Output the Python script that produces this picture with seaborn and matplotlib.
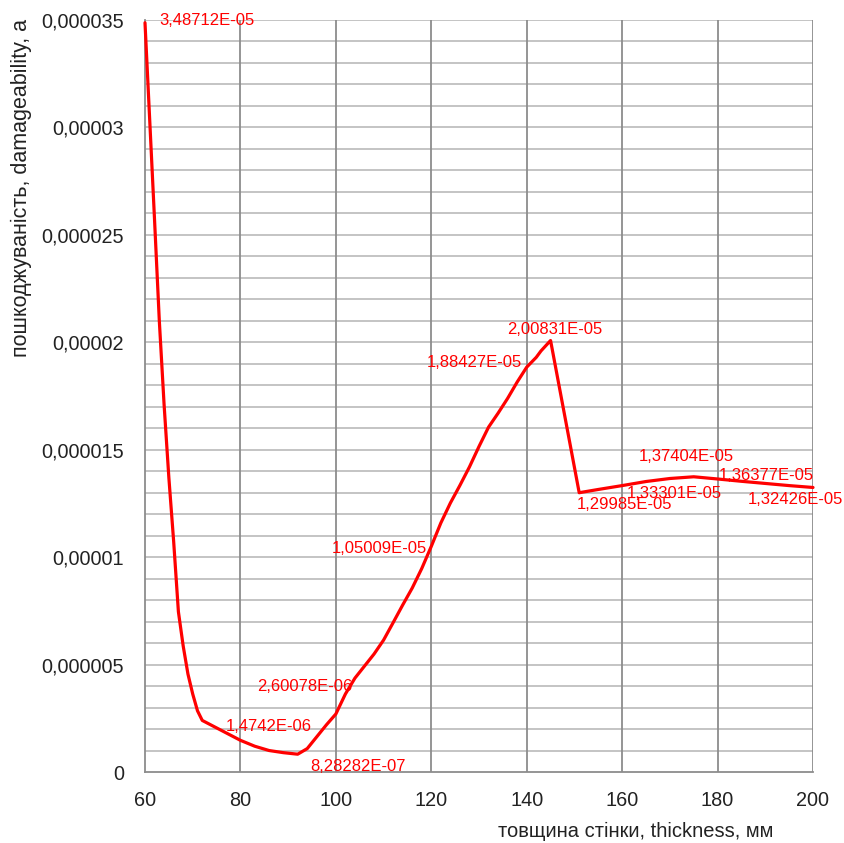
import matplotlib
matplotlib.use("Agg")
import matplotlib.pyplot as plt
import seaborn as sns
import pandas as pd
import numpy as np

# data (thickness, mm) -> damageability
thickness = [60, 62, 63, 64, 65, 66, 67, 68, 69, 70, 71, 72,
             80, 83, 86, 89, 92,
             94, 96, 98, 100, 102, 104, 106, 108, 110, 112, 114, 116, 118,
             120, 122, 124, 126, 128, 130, 132, 134, 136, 138, 140, 142, 143, 145,
             151, 155, 160, 165, 170, 175, 180, 185, 190, 195, 200]
damage = [3.48712e-5, 2.57e-5, 2.10e-5, 1.71e-5, 1.37e-5, 1.075e-5, 7.46e-6, 5.87e-6, 4.56e-6, 3.63e-6, 2.85e-6, 2.40e-6,
          1.4742e-6, 1.20e-6, 1.00e-6, 9.0e-7, 8.28282e-7,
          1.09e-6, 1.64e-6, 2.19e-6, 2.70e-6, 3.63e-6, 4.37e-6, 4.93e-6, 5.49e-6, 6.14e-6, 6.95e-6, 7.77e-6, 8.56e-6, 9.47e-6,
          1.05009e-5, 1.159e-5, 1.252e-5, 1.334e-5, 1.42e-5, 1.515e-5, 1.605e-5, 1.67e-5, 1.739e-5, 1.815e-5, 1.88427e-5, 1.93e-5, 1.96e-5, 2.00831e-5,
          1.29985e-5, 1.315e-5, 1.33301e-5, 1.352e-5, 1.366e-5, 1.37404e-5, 1.36377e-5, 1.353e-5, 1.343e-5, 1.333e-5, 1.32426e-5]

# data labels: text and where they sit (data coordinates, left edge)
label_texts = ["3,48712E-05", "2,00831E-05", "1,88427E-05", "1,05009E-05", "2,60078E-06",
               "1,4742E-06", "8,28282E-07", "1,29985E-05", "1,33301E-05", "1,37404E-05",
               "1,36377E-05", "1,32426E-05"]
label_x = [62.9, 135.9, 119.1, 99.2, 83.5, 77.0, 94.6, 150.5, 161.0, 163.5, 180.3, 186.4]
label_y = [3.497e-5, 2.060e-5, 1.905e-5, 1.041e-5, 4.0e-6, 2.14e-6, 2.47e-7, 1.247e-5, 1.297e-5, 1.467e-5, 1.382e-5, 1.266e-5]

yticks = [0, 5e-6, 1e-5, 1.5e-5, 2e-5, 2.5e-5, 3e-5, 3.5e-5]
ytick_labels = ["0", "0,000005", "0,00001", "0,000015", "0,00002", "0,000025", "0,00003", "0,000035"]
xticks = [60, 80, 100, 120, 140, 160, 180, 200]

sns.set_style("white")
plt.rcParams['font.family'] = ['Liberation Sans', 'DejaVu Sans']

fig = plt.figure(figsize=(8.45, 8.43), dpi=100)
ax = fig.add_axes([145/845, 1-772/843, (813-145)/845, (772-20)/843])

df = pd.DataFrame({"thickness": thickness, "damage": damage})
sns.lineplot(data=df, x="thickness", y="damage", sort=False, color="#ff0000",
             linewidth=2.3, ax=ax, zorder=5, clip_on=False)

ax.set_xlim(60, 200)
ax.set_ylim(0, 3.5e-5)

# grids
for v in np.arange(1e-6, 3.5e-5 + 1e-9, 1e-6):
    ax.axhline(v, color="#c4c4c4", lw=1.4, zorder=1)
for xv in xticks[1:]:
    ax.axvline(xv, color="#8c8c8c", lw=1.3, zorder=2)

ax.set_xticks(xticks)
ax.set_xticklabels([str(t) for t in xticks])
ax.set_yticks(yticks)
ax.set_yticklabels(ytick_labels)
ax.tick_params(axis="both", which="major", direction="out", length=6, width=1.2,
               color="#8c8c8c", labelsize=14.3, labelcolor="#222222")
ax.tick_params(axis="y", pad=9)
ax.tick_params(axis="x", pad=8)

for s in ["top", "right"]:
    ax.spines[s].set_visible(False)
for s in ["left", "bottom"]:
    ax.spines[s].set_color("#8c8c8c")
    ax.spines[s].set_linewidth(1.3)

ax.set_xlabel("товщина стінки, thickness, мм", fontsize=14.5, color="#222222")
ax.set_ylabel("пошкоджуваність, damageability, a", fontsize=15.5, color="#222222")
ax.xaxis.set_label_coords(0.735, -0.066)
ax.yaxis.set_label_coords(-0.169, 0.777)

for t, lx, ly in zip(label_texts, label_x, label_y):
    ax.text(lx, ly, t, color="#ff0000", fontsize=12, ha="left", va="center", zorder=6, clip_on=False)

fig.savefig("out.png", dpi=100)
